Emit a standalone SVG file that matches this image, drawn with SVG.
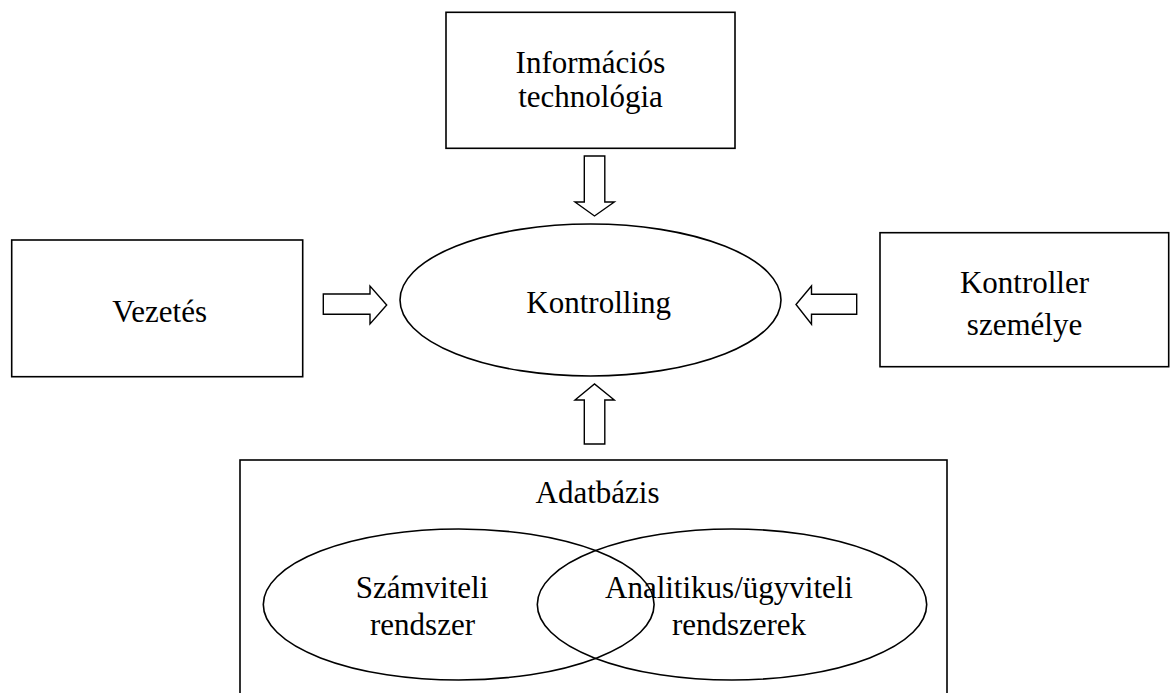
<svg xmlns="http://www.w3.org/2000/svg" width="1173" height="693" viewBox="0 0 1173 693">
<style>
.s{fill:#fff;stroke:#000;stroke-width:1.6}
.e{fill:none;stroke:#000;stroke-width:1.6}
.t{font-family:"Liberation Serif","Times New Roman",serif;font-size:31px;fill:#000;text-anchor:middle}
.a{fill:#fff;stroke:#000;stroke-width:1.4;stroke-linejoin:miter}
</style>
<rect width="1173" height="693" fill="#fff"/>
<g id="adatbazis">
<rect class="s" x="240" y="460" width="707" height="260"/>
<text class="t" x="597.5" y="503">Adatbázis</text>
<ellipse class="e" cx="458.7" cy="604.5" rx="195.4" ry="75.5"/>
<ellipse class="e" cx="732" cy="604.5" rx="194.7" ry="75.5"/>
<text class="t" x="422" y="598">Számviteli</text>
<text class="t" x="422.5" y="635">rendszer</text>
<text class="t" x="729" y="598">Analitikus/ügyviteli</text>
<text class="t" x="739" y="635">rendszerek</text>
</g>
<g id="informacios">
<rect class="s" x="446" y="12.3" width="289" height="136"/>
<text class="t" x="590.5" y="73">Információs</text>
<text class="t" x="590.5" y="107">technológia</text>
</g>
<g id="vezetes">
<rect class="s" x="11.7" y="240" width="291" height="136.7"/>
<text class="t" x="159.7" y="322">Vezetés</text>
</g>
<g id="kontroller">
<rect class="s" x="880" y="232.7" width="288.7" height="134"/>
<text class="t" x="1024.5" y="293">Kontroller</text>
<text class="t" x="1024.5" y="335">személye</text>
</g>
<g id="kontrolling">
<ellipse class="s" cx="590.5" cy="300" rx="190.5" ry="76"/>
<text class="t" x="598.7" y="312.7">Kontrolling</text>
</g>
<g id="connectors">
<polygon class="a" points="584.3,156 604.8,156 604.8,202 614.3,202 594.5,216 575,202 584.3,202"/>
<polygon class="a" points="584.3,444 604.8,444 604.8,400 614.3,400 594.5,384 575,400 584.3,400"/>
<polygon class="a" points="323.3,294 370,294 370,286 386.7,305 370,324 370,314.3 323.3,314.3"/>
<polygon class="a" points="856.7,294.3 811.5,294.3 811.5,286 796,304.5 811.5,324.3 811.5,314.3 856.7,314.3"/>
</g>
</svg>
